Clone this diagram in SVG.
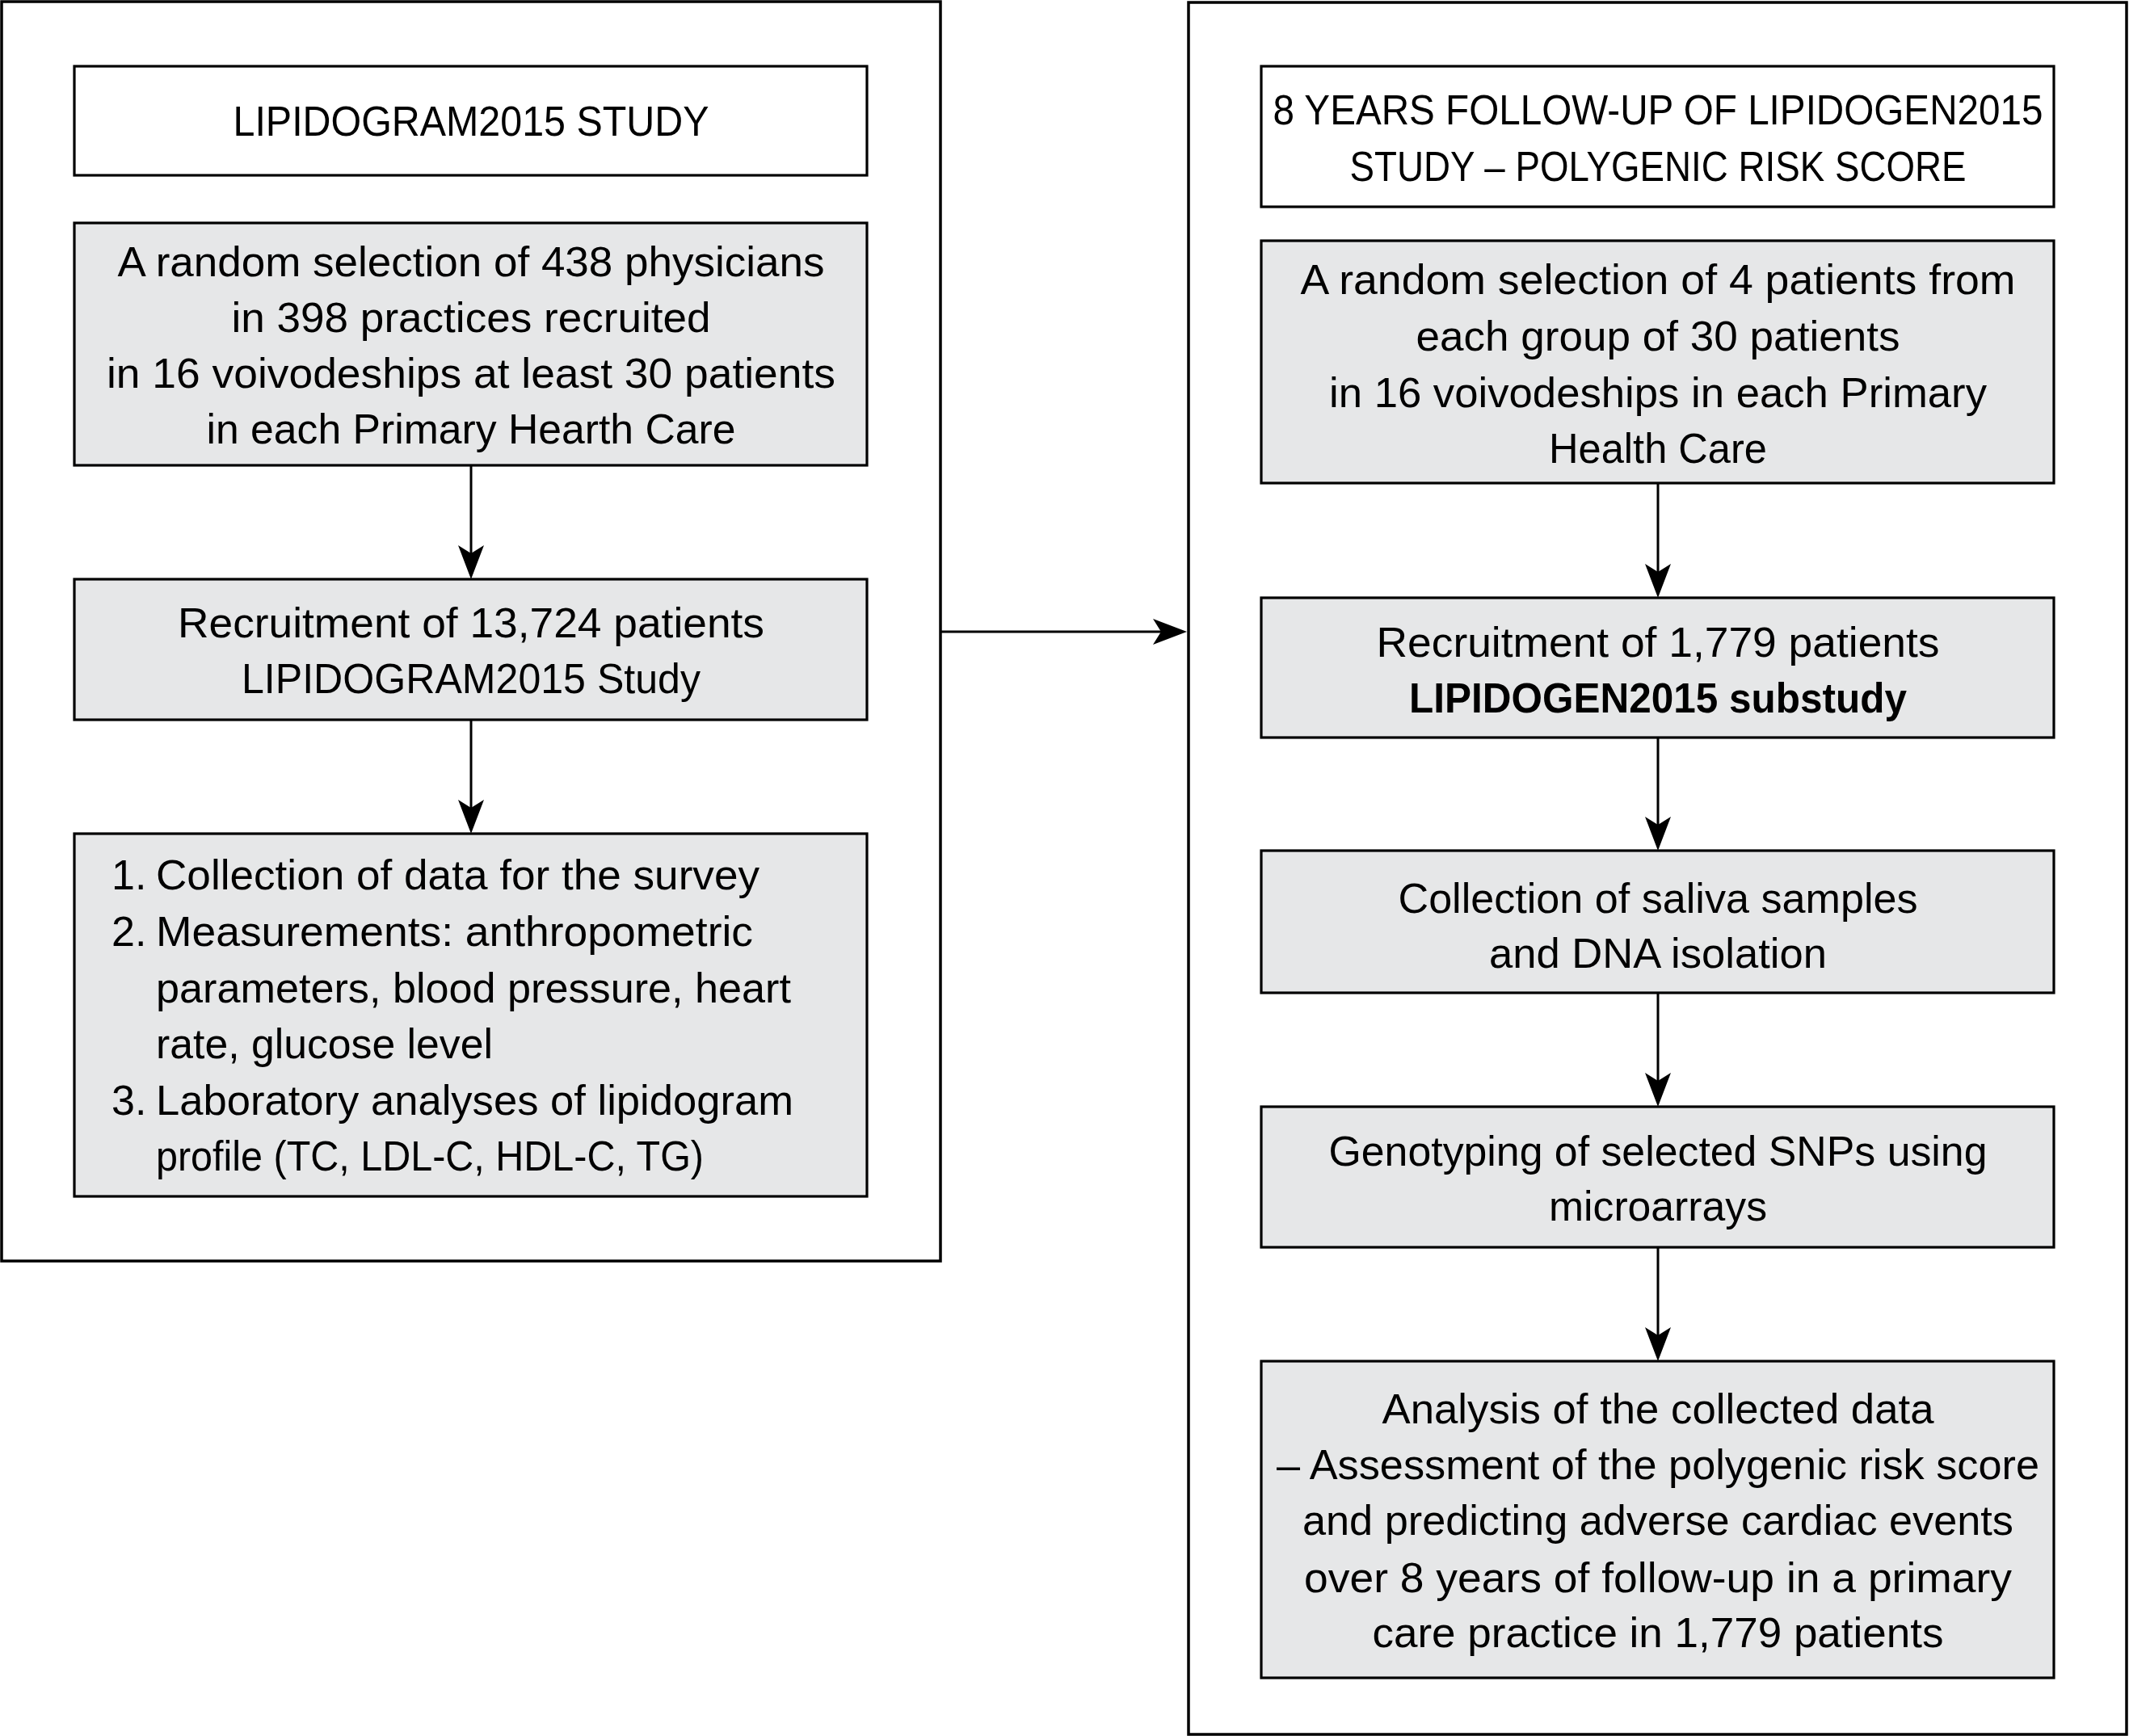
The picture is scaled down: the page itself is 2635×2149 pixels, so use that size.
<svg xmlns="http://www.w3.org/2000/svg" width="2635" height="2149" viewBox="0 0 2635 2149">
<style>
.outer{fill:#ffffff;stroke:#000;stroke-width:3.5}
.box{fill:#e6e7e8;stroke:#000;stroke-width:3.2}
.wbox{fill:#ffffff;stroke:#000;stroke-width:3.2}
.t{font-family:"Liberation Sans",Arial,sans-serif;font-size:52px;fill:#000}
.c{text-anchor:middle}
.b{font-weight:bold}
.conn{stroke:#000;stroke-width:3;fill:none}
</style>
<defs>
<marker id="ah" markerUnits="userSpaceOnUse" viewBox="-44 -18 48 36" markerWidth="48" markerHeight="36" refX="-8" refY="0" orient="auto">
<path d="M0,0 L-42,-16 L-32,0 L-42,16 Z" fill="#000"/>
</marker>
</defs>
<rect width="2635" height="2149" fill="#fff"/>
<g id="left-panel">
<rect class="outer" x="2" y="2" width="1162" height="1559"/>
</g>
<g id="right-panel">
<rect class="outer" x="1471" y="3" width="1161" height="2144"/>
</g>
<g id="connectors">
<line class="conn" x1="583" y1="576" x2="583" y2="709" marker-end="url(#ah)"/>
<line class="conn" x1="583" y1="891" x2="583" y2="1024" marker-end="url(#ah)"/>
<line class="conn" x1="1164" y1="782" x2="1461" y2="782" marker-end="url(#ah)"/>
<line class="conn" x1="2052" y1="598" x2="2052" y2="732" marker-end="url(#ah)"/>
<line class="conn" x1="2052" y1="913" x2="2052" y2="1045" marker-end="url(#ah)"/>
<line class="conn" x1="2052" y1="1229" x2="2052" y2="1362" marker-end="url(#ah)"/>
<line class="conn" x1="2052" y1="1544" x2="2052" y2="1677" marker-end="url(#ah)"/>
</g>
<g id="node-lipidogram-title">
<rect class="wbox" x="92" y="82" width="981" height="135"/>
<text class="t c" x="583" y="168" textLength="589" lengthAdjust="spacingAndGlyphs">LIPIDOGRAM2015 STUDY</text>
</g>
<g id="node-random-physicians">
<rect class="box" x="92" y="276" width="981" height="300"/>
<text class="t c" x="583" y="342" textLength="875" lengthAdjust="spacingAndGlyphs">A random selection of 438 physicians</text>
<text class="t c" x="583" y="411" textLength="593" lengthAdjust="spacingAndGlyphs">in 398 practices recruited</text>
<text class="t c" x="583" y="480" textLength="902" lengthAdjust="spacingAndGlyphs">in 16 voivodeships at least 30 patients</text>
<text class="t c" x="583" y="549" textLength="655" lengthAdjust="spacingAndGlyphs">in each Primary Hearth Care</text>
</g>
<g id="node-recruitment-13724">
<rect class="box" x="92" y="717" width="981" height="174"/>
<text class="t c" x="583" y="789" textLength="726" lengthAdjust="spacingAndGlyphs">Recruitment of 13,724 patients</text>
<text class="t c" x="583" y="858" textLength="568" lengthAdjust="spacingAndGlyphs">LIPIDOGRAM2015 Study</text>
</g>
<g id="node-data-collection">
<rect class="box" x="92" y="1032" width="981" height="449"/>
<text class="t" x="138" y="1101">1.</text>
<text class="t" x="193" y="1101" textLength="747" lengthAdjust="spacingAndGlyphs">Collection of data for the survey</text>
<text class="t" x="138" y="1171">2.</text>
<text class="t" x="193" y="1171" textLength="739" lengthAdjust="spacingAndGlyphs">Measurements: anthropometric</text>
<text class="t" x="193" y="1241" textLength="786" lengthAdjust="spacingAndGlyphs">parameters, blood pressure, heart</text>
<text class="t" x="193" y="1310" textLength="417" lengthAdjust="spacingAndGlyphs">rate, glucose level</text>
<text class="t" x="138" y="1380">3.</text>
<text class="t" x="193" y="1380" textLength="789" lengthAdjust="spacingAndGlyphs">Laboratory analyses of lipidogram</text>
<text class="t" x="193" y="1449" textLength="678" lengthAdjust="spacingAndGlyphs">profile (TC, LDL-C, HDL-C, TG)</text>
</g>
<g id="node-followup-title">
<rect class="wbox" x="1561" y="82" width="981" height="174"/>
<text class="t c" x="2052" y="154" textLength="953" lengthAdjust="spacingAndGlyphs">8 YEARS FOLLOW-UP OF LIPIDOGEN2015</text>
<text class="t c" x="2052" y="224" textLength="763" lengthAdjust="spacingAndGlyphs">STUDY – POLYGENIC RISK SCORE</text>
</g>
<g id="node-random-patients">
<rect class="box" x="1561" y="298" width="981" height="300"/>
<text class="t c" x="2052" y="364" textLength="885" lengthAdjust="spacingAndGlyphs">A random selection of 4 patients from</text>
<text class="t c" x="2052" y="434" textLength="599" lengthAdjust="spacingAndGlyphs">each group of 30 patients</text>
<text class="t c" x="2052" y="504" textLength="814" lengthAdjust="spacingAndGlyphs">in 16 voivodeships in each Primary</text>
<text class="t c" x="2052" y="573" textLength="270" lengthAdjust="spacingAndGlyphs">Health Care</text>
</g>
<g id="node-recruitment-1779">
<rect class="box" x="1561" y="740" width="981" height="173"/>
<text class="t c" x="2052" y="813" textLength="697" lengthAdjust="spacingAndGlyphs">Recruitment of 1,779 patients</text>
<text class="t c b" x="2052" y="882" textLength="616" lengthAdjust="spacingAndGlyphs">LIPIDOGEN2015 substudy</text>
</g>
<g id="node-saliva">
<rect class="box" x="1561" y="1053" width="981" height="176"/>
<text class="t c" x="2052" y="1130" textLength="643" lengthAdjust="spacingAndGlyphs">Collection of saliva samples</text>
<text class="t c" x="2052" y="1198" textLength="418" lengthAdjust="spacingAndGlyphs">and DNA isolation</text>
</g>
<g id="node-genotyping">
<rect class="box" x="1561" y="1370" width="981" height="174"/>
<text class="t c" x="2052" y="1443" textLength="815" lengthAdjust="spacingAndGlyphs">Genotyping of selected SNPs using</text>
<text class="t c" x="2052" y="1511" textLength="270" lengthAdjust="spacingAndGlyphs">microarrays</text>
</g>
<g id="node-analysis">
<rect class="box" x="1561" y="1685" width="981" height="392"/>
<text class="t c" x="2052" y="1762" textLength="683" lengthAdjust="spacingAndGlyphs">Analysis of the collected data</text>
<text class="t c" x="2052" y="1831" textLength="944" lengthAdjust="spacingAndGlyphs">– Assessment of the polygenic risk score</text>
<text class="t c" x="2052" y="1900" textLength="880" lengthAdjust="spacingAndGlyphs">and predicting adverse cardiac events</text>
<text class="t c" x="2052" y="1971" textLength="876" lengthAdjust="spacingAndGlyphs">over 8 years of follow-up in a primary</text>
<text class="t c" x="2052" y="2039" textLength="707" lengthAdjust="spacingAndGlyphs">care practice in 1,779 patients</text>
</g>
</svg>
